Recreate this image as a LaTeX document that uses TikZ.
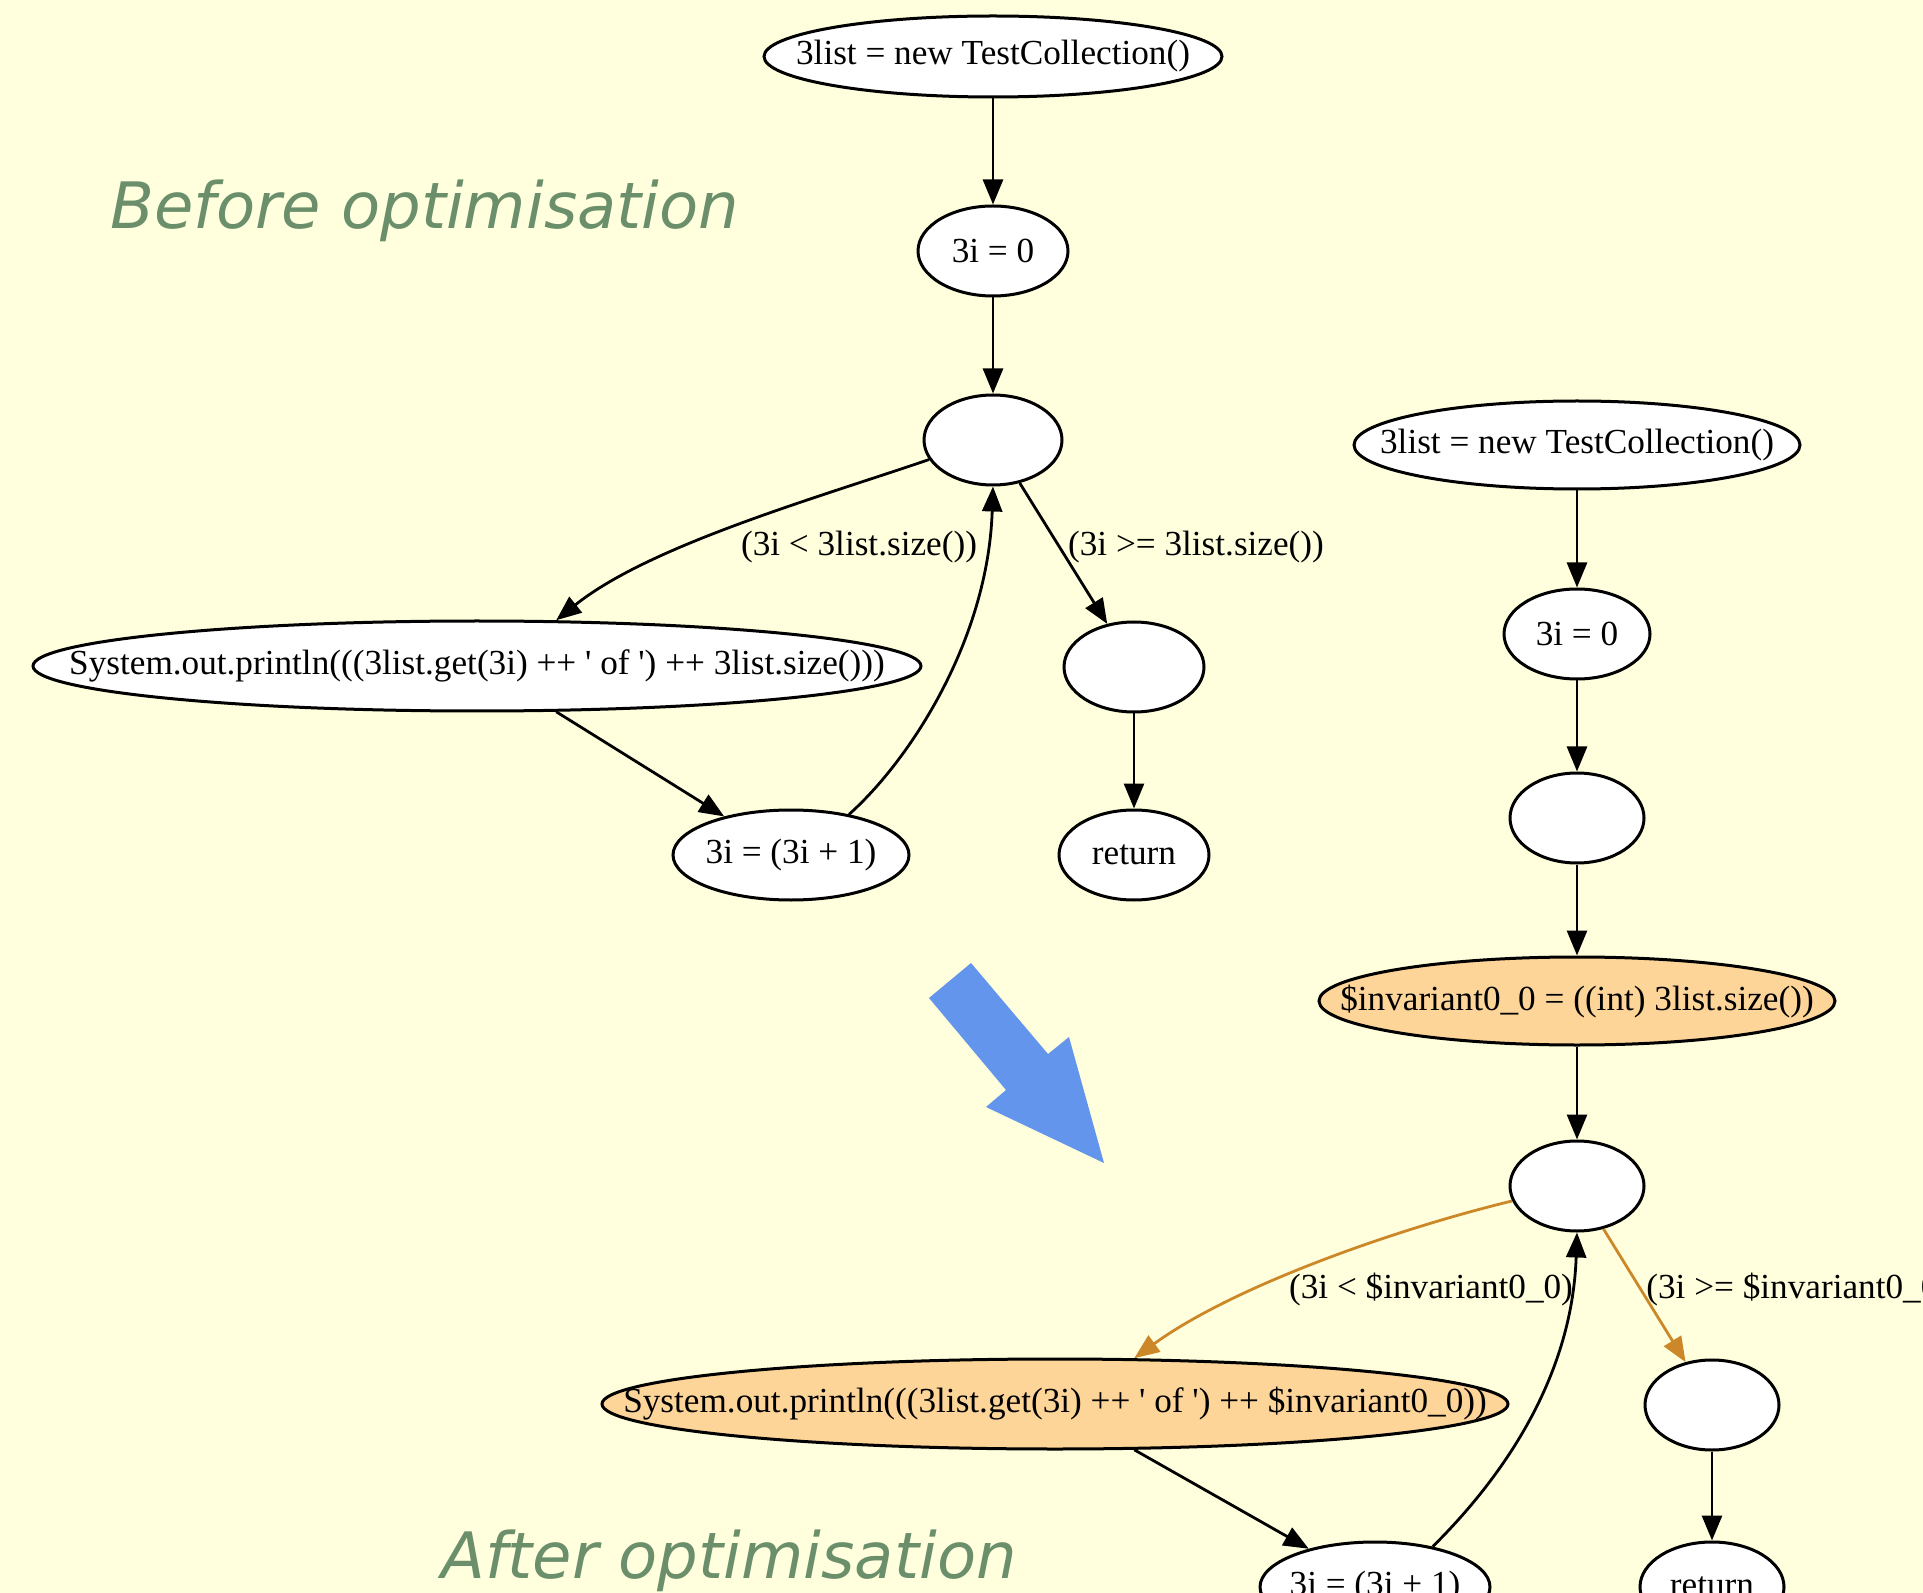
\documentclass[tikz,border=0pt]{standalone}
\usepackage{fontspec}
\newfontfamily\gvfont{Liberation Serif}
\newfontfamily\titlefont{DejaVu Sans}
\usetikzlibrary{shapes.geometric,arrows.meta}
\definecolor{bgyellow}{RGB}{255,255,221}
\definecolor{optfill}{RGB}{254,213,153}
\definecolor{optedge}{RGB}{204,136,40}
\definecolor{titlegreen}{RGB}{107,142,107}
\definecolor{bigarrow}{RGB}{100,149,237}
\tikzset{
  gv/.style 2 args={ellipse, draw=black, fill=white, line width=1.5pt, inner sep=0pt,
    minimum width=#1pt, minimum height=#2pt, font=\gvfont\fontsize{17.6pt}{20pt}\selectfont},
  opt/.style={fill=optfill},
  edgelbl/.style={font=\gvfont\fontsize{17.6pt}{20pt}\selectfont, inner sep=0pt},
  arr/.style={line width=1.4pt, -{Triangle[length=12.5pt,width=10pt]}},
  oarr/.style={arr, draw=optedge, -{Triangle[length=12.5pt,width=10pt,fill=optedge]}},
  ttl/.style={font=\titlefont\itshape\fontsize{32pt}{36pt}\selectfont, text=titlegreen, inner sep=0pt, anchor=base west}
}
\newcommand{\lbl}[1]{\makebox[0pt]{#1}}
\begin{document}
\begin{tikzpicture}[x=0.5pt,y=-0.5pt]
\fill[bgyellow] (0,0) rectangle (1923,1593);
\useasboundingbox (0,0) rectangle (1923,1593);
\clip (0,0) rectangle (1923,1593);

% titles
\node[ttl] (tbefore) at (110,229) {Before optimisation};
\node[ttl] (tafter) at (441,1578) {After optimisation};

% big arrow
\fill[bigarrow] (929,998) -- (971,963) -- (1048,1054) -- (1069,1037) -- (1104,1163) -- (986,1107) -- (1006,1090) -- cycle;

% before graph
\node[gv={229}{40.5}] (n1) at (993,56.5) {\lbl{3list = new TestCollection()}};
\node[gv={75}{45}] (n2) at (993,251) {\lbl{3i = 0}};
\node[gv={69}{45}] (n3) at (993,440) {};
\node[gv={444}{45}] (n4) at (477,666) {\lbl{System.out.println(((3list.get(3i) ++ ' of ') ++ 3list.size()))}};
\node[gv={70}{45}] (n5) at (1134,667) {};
\node[gv={118}{45}] (n6) at (791,855) {\lbl{3i = (3i + 1)}};
\node[gv={75}{45}] (n7) at (1134,855) {\lbl{return}};

\node[edgelbl] (l1) at (859,547) {(3i < 3list.size())};
\node[edgelbl] (l2) at (1196,547) {(3i >= 3list.size())};

\draw[arr] (n1) -- (n2);
\draw[arr] (n2) -- (n3);
\draw[arr] (n3.197) .. controls (820,497) and (650,545) .. (n4.30);
\draw[arr] (n3) -- (n5);
\draw[arr] (n4.-30) -- (n6.150);
\draw[arr] (n6.35) .. controls (910,760) and (988,640) .. (n3.south);
\draw[arr] (n5) -- (n7);

% after graph
\node[gv={223}{44}] (m1) at (1577,445) {\lbl{3list = new TestCollection()}};
\node[gv={73}{45}] (m2) at (1577,634) {\lbl{3i = 0}};
\node[gv={67}{45}] (m3) at (1577,818) {};
\node[gv={258}{44},opt] (m4) at (1577,1001) {\lbl{\$invariant0\_0 = ((int) 3list.size())}};
\node[gv={67}{45}] (m5) at (1577,1186) {};
\node[gv={453}{45},opt] (m6) at (1055,1404) {\lbl{System.out.println(((3list.get(3i) ++ ' of ') ++ \$invariant0\_0))}};
\node[gv={67}{45}] (m7) at (1712,1405) {};
\node[gv={115}{45}] (m8) at (1375,1587) {\lbl{3i = (3i + 1)}};
\node[gv={72}{45}] (m9) at (1712,1587) {\lbl{return}};

\node[edgelbl] (l3) at (1431,1289) {(3i < \$invariant0\_0)};
\node[edgelbl, anchor=west] (l4) at (1646,1289) {(3i >= \$invariant0\_0)};

\draw[arr] (m1) -- (m2);
\draw[arr] (m2) -- (m3);
\draw[arr] (m3) -- (m4);
\draw[arr] (m4) -- (m5);
\draw[oarr] (m5.193) .. controls (1400,1228) and (1235,1285) .. (m6.30);
\draw[oarr] (m5) -- (m7);
\draw[arr] (m6.-30) -- (m8.150);
\draw[arr] (m8.35) .. controls (1500,1480) and (1572,1380) .. (m5.south);
\draw[arr] (m7) -- (m9);
\end{tikzpicture}
\end{document}
